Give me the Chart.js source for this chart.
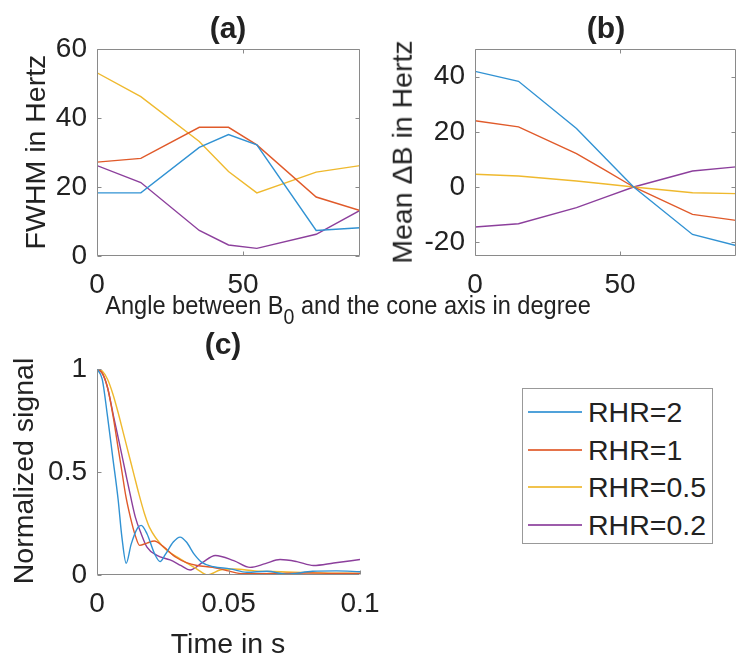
<!DOCTYPE html>
<html>
<head>
<meta charset="utf-8">
<script src="https://cdn.jsdelivr.net/npm/chart.js@4.4.0/dist/chart.umd.min.js"></script>
<style>
  body { margin: 0; background: #fff; }
  #wrap { position: relative; width: 737px; height: 656px; overflow: hidden; font-family: 'Liberation Sans', Arial, sans-serif; color: #222; }
  canvas { position: absolute; left: 0; top: 0; }
  .t { position: absolute; white-space: nowrap; font-size: 28.5px; line-height: 1; transform: translate(-50%, -50%); }
  .b { font-weight: bold; font-size: 30px; }
  .rot { transform: translate(-50%, -50%) rotate(-90deg); }
  .xl { font-size: 26.5px; transform: translate(-50%, -50%) scaleX(0.89); }
  .t sub { font-size: 22px; vertical-align: -10px; line-height: 0; }
  #legend { position: absolute; left: 522px; top: 388px; width: 189px; height: 154px; border: 1px solid #999; background: #fff; }
  #legend .row { position: absolute; left: 0; height: 30px; font-size: 28.5px; line-height: 30px; }
  #legend .ln { position: absolute; left: 5px; top: 14px; width: 54px; height: 2px; opacity: 0.85; }
  #legend .lb { position: absolute; left: 65px; top: 0; white-space: nowrap; }
</style>
</head>
<body>
<div id="wrap">
  <canvas id="chartA" width="737" height="656"></canvas>
  <canvas id="chartB" width="737" height="656"></canvas>
  <canvas id="chartC" width="737" height="656"></canvas>

  <div class="t b" style="left:228px; top:28px;">(a)</div>
  <div class="t b" style="left:606px; top:28px;">(b)</div>
  <div class="t b" style="left:223px; top:344px;">(c)</div>

  <div class="t rot" style="left:35px; top:152px;">FWHM in Hertz</div>
  <div class="t rot" style="left:402px; top:152px;">Mean &Delta;B in Hertz</div>
  <div class="t rot" style="left:23px; top:471px;">Normalized signal</div>

  <div class="t xl" style="left:348px; top:305px;">Angle between B<sub>0</sub> and the cone axis in degree</div>
  <div class="t" style="left:228px; top:643px;">Time in s</div>

  <div id="legend"></div>
</div>
<script>
// Series names and colours (MATLAB default order)
const seriesNames = ['RHR=2', 'RHR=1', 'RHR=0.5', 'RHR=0.2'];
const colors = ['#3192d3', '#e05a2a', '#efb92e', '#8c3f9c'];

// (a) and (b): angle between B0 and cone axis
const angles = [0, 15, 35, 45, 54.7, 75, 90];
const fwhm2 = [18.3, 18.3, 31.5, 35.2, 32.2, 7.4, 8.2];
const fwhm1 = [27.2, 28.3, 37.3, 37.3, 32.2, 17.1, 13.2];
const fwhm05 = [53.1, 46.2, 33.2, 24.5, 18.3, 24.3, 26.2];
const fwhm02 = [26.2, 21.3, 7.4, 3.2, 2.2, 6.3, 13.2];

const meanB2 = [41.9, 38.3, 21.2, 10.4, 0, -17.2, -21.2];
const meanB1 = [24.0, 21.8, 12.1, 6.0, 0, -9.9, -12.1];
const meanB05 = [4.6, 4.0, 2.2, 1.1, 0, -2.1, -2.4];
const meanB02 = [-14.5, -13.3, -7.5, -3.7, 0, 5.8, 7.3];

// (c): signal decay over time
const time2 = [0, 0.002, 0.004, 0.006, 0.008, 0.0095, 0.0111, 0.013, 0.0155, 0.0168, 0.019, 0.022, 0.024, 0.026, 0.029, 0.0316, 0.034, 0.037, 0.040, 0.0443, 0.0506, 0.057, 0.0646, 0.072, 0.082, 0.091, 0.1];
const signal2 = [1, 0.95, 0.77, 0.57, 0.37, 0.18, 0.057, 0.15, 0.23, 0.241, 0.2, 0.1, 0.065, 0.1, 0.16, 0.184, 0.16, 0.1, 0.06, 0.04, 0.03, 0.013, 0.018, 0.004, 0.018, 0.02, 0.016];
const time1 = [0, 0.002, 0.004, 0.006, 0.008, 0.0095, 0.011, 0.0127, 0.0146, 0.0162, 0.019, 0.0218, 0.025, 0.030, 0.034, 0.038, 0.044, 0.050, 0.054, 0.060, 0.070, 0.080, 0.090, 0.1];
const signal1 = [1, 0.98, 0.91, 0.78, 0.62, 0.5, 0.38, 0.28, 0.19, 0.144, 0.155, 0.165, 0.14, 0.086, 0.06, 0.046, 0.037, 0.02, 0.008, 0.006, 0.008, 0.01, 0.008, 0.008];
const time05 = [0, 0.002, 0.004, 0.006, 0.008, 0.010, 0.012, 0.014, 0.016, 0.018, 0.020, 0.0253, 0.0316, 0.038, 0.042, 0.0468, 0.052, 0.06, 0.07, 0.085, 0.1];
const signal05 = [1, 0.99, 0.95, 0.88, 0.79, 0.69, 0.59, 0.49, 0.39, 0.30, 0.23, 0.135, 0.078, 0.029, 0.0, 0.024, 0.029, 0.02, 0.016, 0.01, 0.008];
const time02 = [0, 0.002, 0.004, 0.0063, 0.0085, 0.0108, 0.0128, 0.0146, 0.0168, 0.019, 0.0228, 0.0278, 0.032, 0.0354, 0.040, 0.045, 0.052, 0.0582, 0.064, 0.0696, 0.076, 0.0823, 0.09, 0.1];
const signal02 = [1, 0.98, 0.91, 0.77, 0.64, 0.5, 0.38, 0.28, 0.2, 0.135, 0.095, 0.073, 0.045, 0.024, 0.06, 0.095, 0.07, 0.037, 0.055, 0.075, 0.065, 0.046, 0.058, 0.075];

// Tick values
const angleTicks = [0, 50];
const fwhmTicks = [0, 20, 40, 60];
const meanBTicks = [-20, 0, 20, 40];
const timeTicks = [0, 0.05, 0.1];
const signalTicks = [0, 0.5, 1];

const axisColor = '#8a8a8a';
const textColor = '#222';
const tickFont = { family: "'Liberation Sans', Arial, sans-serif", size: 28 };
const yAxisWidth = 80;   // room kept for y tick labels
const xAxisHeight = 60;  // room kept for x tick labels

// Draws the MATLAB style frame and inward ticks
const matlabAxes = {
    id: 'matlabAxes',
    afterDraw(chart, args, opts) {
        const { ctx, chartArea: a, scales: { x, y } } = chart;
        const L = Math.round(a.left) + 0.5, R = Math.round(a.right) - 0.5;
        const T = Math.round(a.top) + 0.5, B = Math.round(a.bottom) - 0.5;
        ctx.save();
        ctx.strokeStyle = axisColor;
        ctx.lineWidth = 1;
        ctx.beginPath();
        ctx.moveTo(L, T); ctx.lineTo(L, B); ctx.lineTo(R, B);
        if (opts.box) { ctx.lineTo(R, T); ctx.lineTo(L, T); }
        x.ticks.forEach(t => {
            const px = Math.round(x.getPixelForValue(t.value)) + 0.5;
            ctx.moveTo(px, B); ctx.lineTo(px, B - 4);
            if (opts.box) { ctx.moveTo(px, T); ctx.lineTo(px, T + 4); }
        });
        y.ticks.forEach(t => {
            const py = Math.round(y.getPixelForValue(t.value)) + 0.5;
            ctx.moveTo(L, py); ctx.lineTo(L + 4, py);
            if (opts.box) { ctx.moveTo(R, py); ctx.lineTo(R - 4, py); }
        });
        ctx.stroke();
        ctx.restore();
    }
};

function toPoints(xs, ys) {
    return xs.map((v, i) => ({ x: v, y: ys[i] }));
}

function makeScale(min, max, ticks, pad) {
    return {
        type: 'linear',
        min: min,
        max: max,
        grid: { display: false, drawTicks: false },
        border: { display: false },
        afterBuildTicks: scale => { scale.ticks = ticks.map(v => ({ value: v })); },
        afterFit: scale => { if (scale.isHorizontal()) scale.height = xAxisHeight; else scale.width = yAxisWidth; },
        ticks: { font: tickFont, color: textColor, padding: pad, maxRotation: 0, autoSkip: false, callback: v => String(v) }
    };
}

function makeChart(id, area, seriesX, seriesY, xs, ys, box, smooth) {
    return new Chart(document.getElementById(id), {
        type: 'line',
        data: {
            datasets: seriesY.map((vals, i) => ({
                label: seriesNames[i],
                data: toPoints(seriesX[i], vals),
                borderColor: colors[i],
                borderWidth: 1.4,
                pointRadius: 0,
                fill: false,
                tension: 0,
                cubicInterpolationMode: smooth ? 'monotone' : 'default'
            }))
        },
        options: {
            responsive: false,
            animation: false,
            layout: { padding: { left: area.left - yAxisWidth, top: area.top, right: 737 - area.right, bottom: 656 - area.bottom - xAxisHeight } },
            plugins: { legend: { display: false }, tooltip: { enabled: false }, matlabAxes: { box: box } },
            scales: { x: xs, y: ys }
        },
        plugins: [matlabAxes]
    });
}

const sameAngles = [angles, angles, angles, angles];

makeChart('chartA', { left: 97, top: 49, right: 360, bottom: 256 },
    sameAngles, [fwhm2, fwhm1, fwhm05, fwhm02],
    makeScale(0, 90, angleTicks, 12), makeScale(0, 60, fwhmTicks, 10), true, false);

makeChart('chartB', { left: 475, top: 49, right: 736, bottom: 256 },
    sameAngles, [meanB2, meanB1, meanB05, meanB02],
    makeScale(0, 90, angleTicks, 12), makeScale(-25, 50, meanBTicks, 10), true, false);

makeChart('chartC', { left: 97, top: 369, right: 360, bottom: 575 },
    [time2, time1, time05, time02], [signal2, signal1, signal05, signal02],
    makeScale(0, 0.1, timeTicks, 12), makeScale(0, 1, signalTicks, 10), false, true);

// Legend for the four series
const legend = document.getElementById('legend');
seriesNames.forEach((name, i) => {
    const row = document.createElement('div');
    row.className = 'row';
    row.style.top = Math.round(8 + i * 37.5) + 'px';
    row.innerHTML = `<div class="ln" style="background:${colors[i]}"></div><div class="lb">${name}</div>`;
    legend.appendChild(row);
});
</script>
</body>
</html>
